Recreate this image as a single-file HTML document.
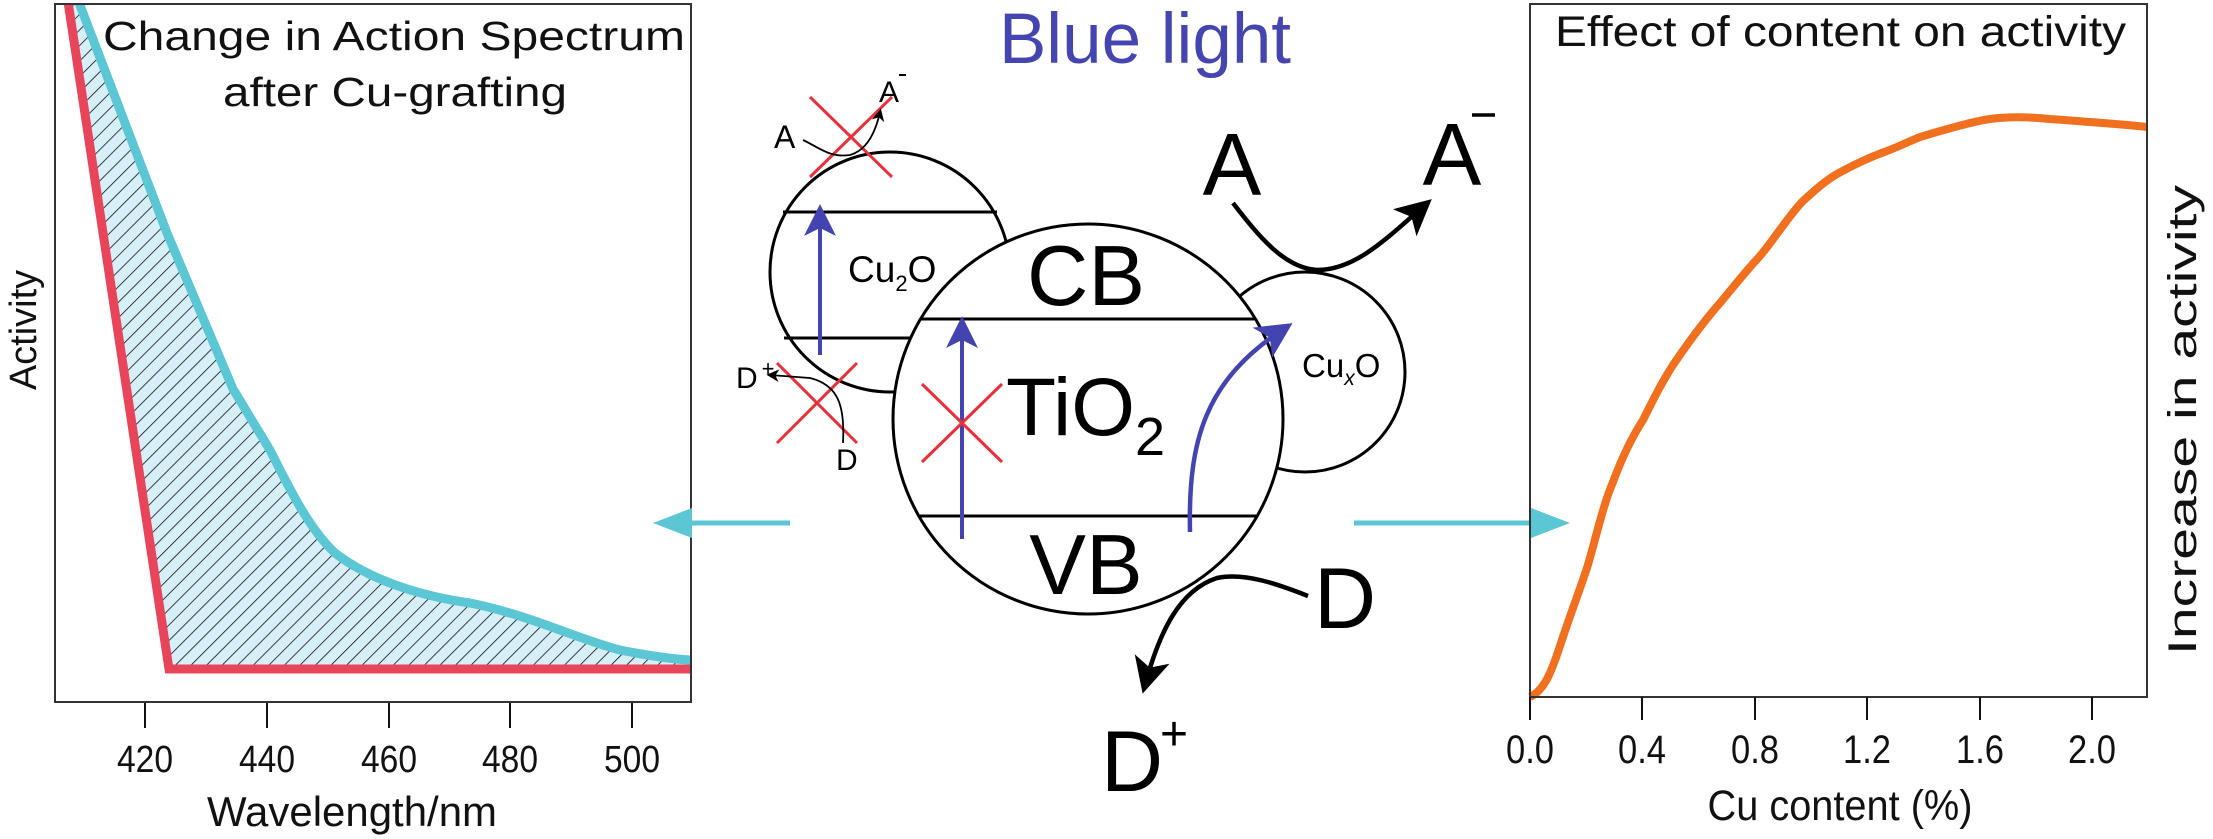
<!DOCTYPE html>
<html><head><meta charset="utf-8"><style>
html,body{margin:0;padding:0;background:#fff;}
svg{display:block;font-family:"Liberation Sans",sans-serif;}
</style></head><body>
<svg width="2213" height="839" viewBox="0 0 2213 839" xmlns="http://www.w3.org/2000/svg">
<defs>
<pattern id="hatch" patternUnits="userSpaceOnUse" width="11" height="11" patternTransform="rotate(45)">
<rect width="11" height="11" fill="#d6eff8"/>
<line x1="0" y1="0" x2="0" y2="11" stroke="#111" stroke-width="1.6"/>
</pattern>
<marker id="ab" markerWidth="8" markerHeight="8" refX="6" refY="4" orient="auto" markerUnits="strokeWidth"><path d="M0,0 L8,4 L0,8 L2,4 Z" fill="#4444b0"/></marker>
<marker id="ak" markerWidth="8" markerHeight="8" refX="6" refY="4" orient="auto" markerUnits="strokeWidth"><path d="M0,0 L8,4 L0,8 L2,4 Z" fill="#000"/></marker>
<marker id="aks" markerWidth="7" markerHeight="7" refX="5" refY="3.5" orient="auto"><path d="M0,0 L7,3.5 L0,7 L2,3.5 Z" fill="#000"/></marker>
<clipPath id="lc"><rect x="55" y="4" width="636" height="698"/></clipPath>
</defs>

<!-- LEFT PLOT -->
<g clip-path="url(#lc)">
<path d="M67,0 L169,669 L691,669 L691,660 C670,659 650,656 620,650 C580,640 530,615 470,603 C420,596 370,580 335,553 C310,530 290,490 270,450 L233,389 L167,233 L78,0 Z" fill="url(#hatch)"/>
<path d="M78,0 L167,233 L233,389 L270,450 C290,490 310,530 335,553 C370,580 420,596 470,603 C530,615 580,640 620,650 C650,656 670,659 691,660" fill="none" stroke="#5bc6d4" stroke-width="9"/>
<path d="M67,-5 L169,669 L695,669" fill="none" stroke="#e8455a" stroke-width="9" stroke-linejoin="miter"/>
</g>
<rect x="55" y="4" width="636" height="698" fill="none" stroke="#333" stroke-width="2"/>
<g stroke="#111" stroke-width="2">
<line x1="145" y1="703" x2="145" y2="728"/><line x1="267" y1="703" x2="267" y2="728"/><line x1="389" y1="703" x2="389" y2="728"/><line x1="510" y1="703" x2="510" y2="728"/><line x1="632" y1="703" x2="632" y2="728"/>
</g>
<g font-size="38" text-anchor="middle" fill="#111">
<text x="145" y="772" textLength="56" lengthAdjust="spacingAndGlyphs">420</text><text x="267" y="772" textLength="56" lengthAdjust="spacingAndGlyphs">440</text><text x="389" y="772" textLength="56" lengthAdjust="spacingAndGlyphs">460</text><text x="510" y="772" textLength="56" lengthAdjust="spacingAndGlyphs">480</text><text x="632" y="772" textLength="56" lengthAdjust="spacingAndGlyphs">500</text>
</g>
<text x="352" y="826" font-size="42" text-anchor="middle" textLength="290" lengthAdjust="spacingAndGlyphs" fill="#111">Wavelength/nm</text>
<text transform="translate(36,330) rotate(-90)" font-size="38" text-anchor="middle" fill="#111">Activity</text>
<text x="103" y="50" font-size="41" textLength="582" lengthAdjust="spacingAndGlyphs" fill="#111">Change in Action Spectrum</text>
<text x="223" y="106" font-size="41" textLength="344" lengthAdjust="spacingAndGlyphs" fill="#111">after Cu-grafting</text>

<!-- cyan arrows -->
<line x1="790" y1="523" x2="680" y2="523" stroke="#5bc6d4" stroke-width="5"/>
<path d="M653,523 L692,508 L692,538 Z" fill="#5bc6d4"/>
<line x1="1354" y1="523" x2="1545" y2="523" stroke="#5bc6d4" stroke-width="5"/>
<path d="M1570,523 L1531,508 L1531,538 Z" fill="#5bc6d4"/>

<!-- CENTER -->
<text x="1145" y="63" font-size="71" text-anchor="middle" fill="#4545b0">Blue light</text>

<circle cx="890" cy="272" r="120" fill="#fff" stroke="#000" stroke-width="3"/>
<line x1="783" y1="212" x2="997" y2="212" stroke="#000" stroke-width="3"/>
<line x1="784" y1="338" x2="996" y2="338" stroke="#000" stroke-width="3"/>
<circle cx="1305" cy="372" r="100" fill="#fff" stroke="#000" stroke-width="3"/>
<circle cx="1088" cy="419" r="195" fill="#fff" stroke="#000" stroke-width="3"/>
<line x1="921" y1="319" x2="1255" y2="319" stroke="#000" stroke-width="3"/>
<line x1="920" y1="516" x2="1256" y2="516" stroke="#000" stroke-width="3"/>

<text x="1086" y="305" font-size="85" text-anchor="middle" fill="#000">CB</text>
<text x="1086" y="594" font-size="85" text-anchor="middle" fill="#000">VB</text>
<text x="1006" y="435" font-size="82" fill="#000">TiO<tspan font-size="54" dy="20">2</tspan></text>
<text x="848" y="282" font-size="37" fill="#000">Cu<tspan font-size="22" dy="9">2</tspan><tspan dy="-9">O</tspan></text>
<text x="1302" y="377" font-size="33" fill="#000">Cu<tspan font-size="21" dy="8" font-style="italic">x</tspan><tspan dy="-8">O</tspan></text>

<line x1="820" y1="355" x2="820" y2="212" stroke="#4444b0" stroke-width="4" marker-end="url(#ab)"/>
<line x1="962" y1="539" x2="962" y2="324" stroke="#4444b0" stroke-width="4" marker-end="url(#ab)"/>
<path d="M1190,532 C1188,440 1205,380 1285,328" fill="none" stroke="#4444b0" stroke-width="4.5" marker-end="url(#ab)"/>

<g stroke="#e8303a" stroke-width="3">
<line x1="810" y1="97" x2="892" y2="177"/><line x1="810" y1="177" x2="892" y2="97"/>
<line x1="777" y1="363" x2="857" y2="443"/><line x1="777" y1="443" x2="857" y2="363"/>
<line x1="922" y1="384" x2="1002" y2="462"/><line x1="922" y1="462" x2="1002" y2="384"/>
</g>

<text x="774" y="148" font-size="32" fill="#000">A</text>
<text x="879" y="102" font-size="30" fill="#000">A</text>
<line x1="899" y1="75" x2="906" y2="75" stroke="#000" stroke-width="2"/>
<path d="M803,140 C820,148 830,158 850,155 C868,150 876,130 880,112" fill="none" stroke="#000" stroke-width="1.8" marker-end="url(#aks)"/>
<text x="736" y="388" font-size="30" fill="#000">D</text>
<text x="768" y="376" font-size="22" text-anchor="middle" fill="#000">+</text>
<text x="836" y="470" font-size="30" fill="#000">D</text>
<path d="M843,443 C845,405 838,385 810,378 L770,375" fill="none" stroke="#000" stroke-width="1.8" marker-end="url(#aks)"/>

<text x="1232" y="195" font-size="88" text-anchor="middle" fill="#000">A</text>
<text x="1452" y="185" font-size="88" text-anchor="middle" fill="#000">A</text>
<line x1="1472" y1="115" x2="1495" y2="115" stroke="#000" stroke-width="3.5"/>
<path d="M1233,203 C1260,238 1285,268 1317,270 C1355,270 1385,240 1425,205" fill="none" stroke="#000" stroke-width="4.5" marker-end="url(#ak)"/>
<text x="1345" y="628" font-size="86" text-anchor="middle" fill="#000">D</text>
<text x="1132" y="791" font-size="86" text-anchor="middle" fill="#000">D</text>
<text x="1174" y="750" font-size="48" text-anchor="middle" fill="#000">+</text>
<path d="M1308,596 C1280,585 1245,572 1217,578 C1180,590 1160,630 1145,685" fill="none" stroke="#000" stroke-width="4.5" marker-end="url(#ak)"/>

<!-- RIGHT PLOT -->
<path d="M1530,697 C1545,690 1552,670 1560,646 C1570,615 1578,595 1587,568 C1596,538 1603,505 1613,482 C1623,455 1632,437 1643,420 C1653,400 1662,382 1673,365 C1690,340 1705,320 1720,303 C1735,285 1745,272 1760,256 C1775,238 1790,214 1803,201 C1815,190 1825,181 1837,174 C1855,164 1870,157 1887,151 C1900,146 1910,141 1920,137 C1950,128 1975,121 1990,119 C2010,116 2030,117 2050,119 C2090,122 2120,124 2147,127" fill="none" stroke="#f07020" stroke-width="8"/>
<rect x="1530" y="4" width="617" height="693" fill="none" stroke="#333" stroke-width="2"/>
<g stroke="#111" stroke-width="2">
<line x1="1530" y1="697" x2="1530" y2="720"/><line x1="1642" y1="697" x2="1642" y2="720"/><line x1="1755" y1="697" x2="1755" y2="720"/><line x1="1867" y1="697" x2="1867" y2="720"/><line x1="1980" y1="697" x2="1980" y2="720"/><line x1="2092" y1="697" x2="2092" y2="720"/>
</g>
<g font-size="40" text-anchor="middle" fill="#111">
<text x="1530" y="763" textLength="48" lengthAdjust="spacingAndGlyphs">0.0</text><text x="1642" y="763" textLength="48" lengthAdjust="spacingAndGlyphs">0.4</text><text x="1755" y="763" textLength="48" lengthAdjust="spacingAndGlyphs">0.8</text><text x="1867" y="763" textLength="48" lengthAdjust="spacingAndGlyphs">1.2</text><text x="1980" y="763" textLength="48" lengthAdjust="spacingAndGlyphs">1.6</text><text x="2092" y="763" textLength="48" lengthAdjust="spacingAndGlyphs">2.0</text>
</g>
<text x="1840" y="820" font-size="43" text-anchor="middle" textLength="265" lengthAdjust="spacingAndGlyphs" fill="#111">Cu content (%)</text>
<text x="1555" y="46" font-size="43" textLength="571" lengthAdjust="spacingAndGlyphs" fill="#111">Effect of content on activity</text>
<text transform="translate(2196,420) rotate(-90)" font-size="40" text-anchor="middle" textLength="470" lengthAdjust="spacingAndGlyphs" fill="#111">Increase in activity</text>
</svg>
</body></html>
